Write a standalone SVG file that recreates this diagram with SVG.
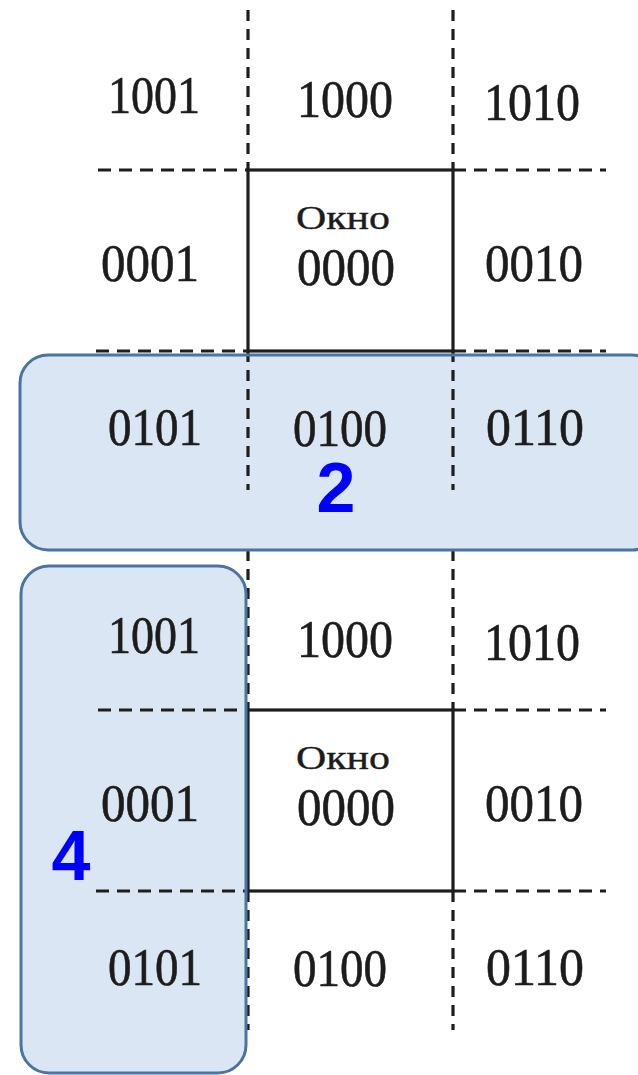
<svg xmlns="http://www.w3.org/2000/svg" xmlns:xlink="http://www.w3.org/1999/xlink" width="638" height="1075" viewBox="0 0 638 1075">
  <style>
    .code { font-family: "Liberation Serif", "Times New Roman", serif; font-size: 52px; fill: #1c1c1c; stroke: #1c1c1c; stroke-width: 0.6; text-anchor: middle; }
    .win { font-family: "Liberation Serif", "Times New Roman", serif; font-size: 34px; fill: #1c1c1c; stroke: #1c1c1c; stroke-width: 0.4; text-anchor: middle; }
    .hdash { stroke: #1e1e1e; stroke-width: 3.2; stroke-dasharray: 13 8; fill: none; }
    .vdash { stroke: #1e1e1e; stroke-width: 3.2; stroke-dasharray: 11 8; fill: none; }
    .window { stroke: #1e1e1e; stroke-width: 3.2; fill: none; }
    .zone { fill: #dae6f3; stroke: none; }
    .zone-edge { fill: none; stroke: #4a74a4; stroke-width: 3; }
    .num { font-family: "Liberation Sans", Arial, sans-serif; font-weight: bold; font-size: 70px; fill: #0000ff; text-anchor: middle; }
  </style>
  <defs>
    <!-- Cohen–Sutherland region codes around the clipping window -->
    <g id="region-grid">
      <g id="grid-lines">
        <line class="vdash" x1="248" y1="10" x2="248" y2="170"/>
        <line class="vdash" x1="453" y1="10" x2="453" y2="170"/>
        <line class="vdash" x1="248" y1="351" x2="248" y2="490"/>
        <line class="vdash" x1="453" y1="351" x2="453" y2="490"/>
        <line class="hdash" x1="98" y1="170" x2="248" y2="170"/>
        <line class="hdash" x1="453" y1="170" x2="606" y2="170"/>
        <line class="hdash" x1="96" y1="351" x2="248" y2="351"/>
        <line class="hdash" x1="453" y1="351" x2="606" y2="351"/>
        <rect class="window" x="248" y="170" width="205" height="181"/>
      </g>
      <g id="codes">
        <text class="code" x="154" y="113" textLength="92" lengthAdjust="spacingAndGlyphs">1001</text>
        <text class="code" x="345" y="117" textLength="96" lengthAdjust="spacingAndGlyphs">1000</text>
        <text class="code" x="532" y="120" textLength="96" lengthAdjust="spacingAndGlyphs">1010</text>
        <text class="code" x="150" y="281" textLength="98" lengthAdjust="spacingAndGlyphs">0001</text>
        <text class="win" x="343" y="229" textLength="94" lengthAdjust="spacingAndGlyphs">Окно</text>
        <text class="code" x="346" y="285" textLength="98" lengthAdjust="spacingAndGlyphs">0000</text>
        <text class="code" x="534" y="281" textLength="98" lengthAdjust="spacingAndGlyphs">0010</text>
        <text class="code" x="155" y="445" textLength="94" lengthAdjust="spacingAndGlyphs">0101</text>
        <text class="code" x="340" y="446" textLength="94" lengthAdjust="spacingAndGlyphs">0100</text>
        <text class="code" x="535" y="445" textLength="98" lengthAdjust="spacingAndGlyphs">0110</text>
      </g>
    </g>
  </defs>

  <rect width="638" height="1075" fill="#ffffff"/>

  <!-- highlighted zones (fill beneath the grids) -->
  <rect class="zone" x="20" y="355" width="640" height="195" rx="28"/>
  <rect class="zone" x="21" y="566" width="225" height="507" rx="28"/>

  <g id="diagram-top">
    <use xlink:href="#region-grid"/>
  </g>
  <g id="diagram-bottom">
    <use xlink:href="#region-grid" transform="translate(0,540)"/>
  </g>

  <!-- zone outlines and their numbers -->
  <g id="zone-2">
    <rect class="zone-edge" x="20" y="355" width="640" height="195" rx="28"/>
    <text class="num" x="336" y="512">2</text>
  </g>
  <g id="zone-4">
    <rect class="zone-edge" x="21" y="566" width="225" height="507" rx="28"/>
    <text class="num" x="71" y="880">4</text>
  </g>
</svg>
